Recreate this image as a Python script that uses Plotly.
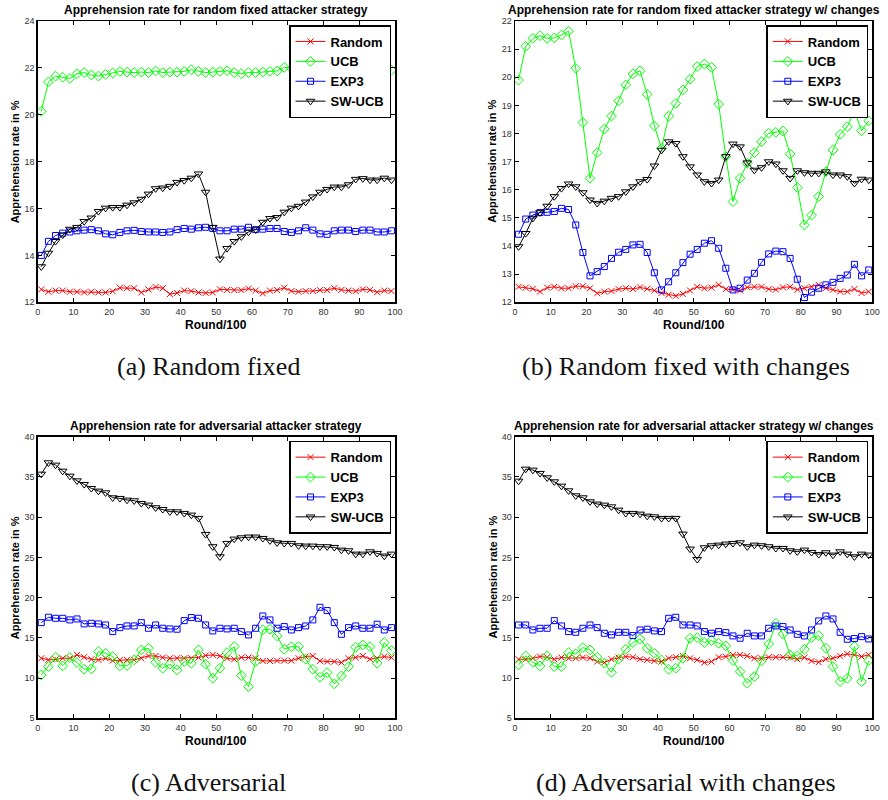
import plotly.graph_objects as go

rounds = list(range(1, 100, 2))
series_names = ["Random", "UCB", "EXP3", "SW-UCB"]

# (a) Random fixed
a_random = [12.55, 12.45, 12.5, 12.5, 12.45, 12.45, 12.42, 12.45, 12.42, 12.42,
            12.47, 12.62, 12.6, 12.6, 12.42, 12.55, 12.65, 12.6, 12.35, 12.4,
            12.5, 12.48, 12.42, 12.4, 12.42, 12.55, 12.53, 12.52, 12.52, 12.58,
            12.5, 12.38, 12.5, 12.52, 12.62, 12.48, 12.45, 12.48, 12.48, 12.52,
            12.52, 12.6, 12.53, 12.5, 12.48, 12.55, 12.53, 12.43, 12.5, 12.48]
a_ucb = [20.15, 21.4, 21.65, 21.6, 21.55, 21.75, 21.8, 21.7, 21.65, 21.72,
         21.78, 21.85, 21.82, 21.8, 21.82, 21.8, 21.87, 21.8, 21.82, 21.82,
         21.85, 21.92, 21.85, 21.8, 21.82, 21.85, 21.88, 21.8, 21.75, 21.8,
         21.8, 21.82, 21.85, 21.87, 22.02, 21.98, 21.97, 21.95, 21.93, 21.95,
         21.92, 21.95, 21.93, 21.95, 21.92, 21.93, 21.95, 21.92, 21.93, 21.9]
a_exp3 = [14.0, 14.6, 14.85, 14.95, 15.0, 15.05, 15.08, 15.1, 15.05, 14.92,
          14.88, 14.98, 15.05, 15.07, 15.02, 15.0, 15.0, 14.98, 15.0, 15.1,
          15.15, 15.12, 15.18, 15.2, 15.15, 15.05, 15.05, 15.12, 15.12, 15.2,
          15.1, 15.12, 15.15, 15.15, 15.02, 14.98, 15.05, 15.18, 15.08, 14.92,
          14.9, 15.05, 15.08, 15.08, 15.02, 15.08, 15.08, 15.0, 15.0, 15.05]
a_swucb = [13.52, 14.1, 14.6, 14.88, 15.12, 15.2, 15.45, 15.6, 15.88, 16.02,
           16.05, 16.05, 16.15, 16.25, 16.4, 16.62, 16.85, 16.88, 16.95, 17.12,
           17.2, 17.3, 17.48, 16.7, 15.2, 13.85, 14.3, 14.6, 14.8, 15.0,
           15.1, 15.42, 15.58, 15.62, 15.85, 16.02, 16.1, 16.28, 16.5, 16.7,
           16.82, 16.92, 16.92, 17.02, 17.25, 17.28, 17.22, 17.22, 17.3, 17.22]

# (b) Random fixed with changes
b_random = [12.55, 12.52, 12.48, 12.38, 12.52, 12.55, 12.5, 12.5, 12.57, 12.57,
            12.5, 12.32, 12.38, 12.4, 12.47, 12.5, 12.47, 12.53, 12.48, 12.42,
            12.33, 12.27, 12.23, 12.3, 12.42, 12.55, 12.5, 12.52, 12.62, 12.47,
            12.45, 12.42, 12.53, 12.55, 12.55, 12.47, 12.45, 12.53, 12.55, 12.45,
            12.5, 12.55, 12.62, 12.5, 12.45, 12.38, 12.38, 12.47, 12.33, 12.38]
b_ucb = [19.9, 21.1, 21.38, 21.48, 21.38, 21.4, 21.5, 21.64, 20.32, 18.39,
         16.41, 17.32, 18.16, 18.62, 19.16, 19.73, 20.12, 20.23, 19.39, 18.27,
         17.47, 18.62, 19.07, 19.55, 19.93, 20.38, 20.47, 20.35, 19.04, 17.18,
         15.58, 16.41, 16.94, 17.32, 17.71, 18.01, 18.04, 18.09, 17.27, 16.08,
         14.75, 15.1, 15.76, 16.64, 17.41, 17.97, 18.24, 18.8, 18.1, 18.45]
b_exp3 = [14.42, 14.96, 15.1, 15.19, 15.2, 15.23, 15.34, 15.3, 14.75, 13.77,
          12.94, 13.09, 13.27, 13.56, 13.78, 13.88, 14.04, 14.06, 13.77, 13.05,
          12.44, 12.73, 13.05, 13.41, 13.71, 13.88, 14.1, 14.19, 13.92, 13.21,
          12.44, 12.5, 12.79, 13.03, 13.42, 13.72, 13.82, 13.8, 13.56, 12.82,
          12.17, 12.36, 12.5, 12.62, 12.71, 12.85, 12.97, 13.35, 12.94, 13.15]
b_swucb = [13.98, 14.45, 14.99, 15.19, 15.42, 15.76, 16.05, 16.21, 16.11, 15.9,
           15.64, 15.52, 15.6, 15.7, 15.76, 15.93, 16.11, 16.29, 16.37, 16.85,
           17.41, 17.71, 17.65, 17.18, 16.82, 16.53, 16.29, 16.23, 16.35, 17.18,
           17.63, 17.53, 16.96, 16.7, 16.79, 17.0, 16.92, 16.68, 16.41, 16.68,
           16.61, 16.59, 16.59, 16.64, 16.53, 16.53, 16.47, 16.23, 16.38, 16.35]

# (c) Adversarial
c_random = [12.46, 12.26, 12.34, 12.46, 12.46, 12.88, 12.59, 12.34, 12.26, 12.46,
            12.17, 12.26, 12.26, 12.26, 12.46, 12.75, 12.75, 12.55, 12.46, 12.46,
            12.46, 12.46, 12.55, 12.8, 12.88, 12.75, 12.46, 12.34, 12.55, 12.55,
            12.46, 12.13, 12.13, 12.17, 12.17, 12.17, 12.46, 12.67, 12.75, 12.13,
            12.05, 12.05, 11.93, 12.46, 12.55, 12.75, 12.34, 12.46, 12.67, 12.55]
c_ucb = [10.39, 11.43, 12.59, 11.51, 12.55, 11.93, 11.1, 11.14, 13.29, 13.08,
         12.67, 11.51, 11.55, 12.26, 13.5, 13.71, 11.97, 11.22, 11.72, 11.01,
         12.05, 11.84, 13.5, 11.72, 9.98, 11.22, 13.17, 13.91, 10.31, 8.94,
         12.05, 15.98, 16.07, 15.24, 13.58, 13.91, 13.91, 12.34, 11.1, 10.1,
         10.68, 9.28, 10.27, 11.43, 13.83, 14.12, 13.91, 11.84, 14.41, 13.42]
c_exp3 = [16.89, 17.56, 17.43, 17.43, 17.23, 17.35, 16.73, 16.81, 16.73, 16.6,
          15.78, 16.27, 16.48, 16.48, 16.89, 16.19, 16.6, 16.19, 16.11, 16.07,
          17.14, 17.52, 17.43, 16.6, 15.86, 16.19, 16.11, 16.19, 15.78, 15.36,
          16.19, 17.72, 17.23, 16.19, 16.4, 15.98, 16.27, 16.48, 17.23, 18.8,
          18.39, 16.89, 15.44, 16.27, 16.48, 16.19, 16.19, 16.69, 15.98, 16.27]
c_swucb = [35.36, 36.77, 36.48, 35.73, 35.11, 34.53, 34.08, 33.58, 33.25, 33.04,
           32.42, 32.34, 32.13, 32.05, 31.72, 31.51, 31.18, 30.97, 30.68, 30.68,
           30.48, 30.27, 29.86, 27.87, 26.34, 25.09, 26.75, 27.29, 27.45, 27.54,
           27.54, 27.37, 27.08, 26.83, 26.75, 26.75, 26.46, 26.42, 26.42, 26.34,
           26.34, 26.25, 25.92, 25.84, 25.42, 25.42, 25.71, 25.51, 25.18, 25.42]

# (d) Adversarial with changes
d_random = [12.34, 12.34, 12.46, 12.67, 12.59, 12.34, 12.55, 12.46, 12.46, 12.55,
            12.46, 12.05, 11.93, 12.34, 12.55, 12.67, 12.59, 12.34, 12.26, 12.13,
            12.05, 12.46, 12.59, 12.75, 12.46, 12.26, 11.93, 12.05, 12.59, 12.67,
            12.88, 12.88, 12.75, 12.46, 12.46, 12.59, 12.59, 12.59, 12.55, 12.34,
            12.55, 12.13, 11.97, 12.34, 12.46, 12.75, 13.0, 12.88, 12.67, 12.88]
d_ucb = [11.64, 12.75, 11.97, 11.51, 12.75, 11.43, 11.43, 13.17, 13.0, 13.79,
         13.5, 12.59, 11.84, 10.72, 12.34, 13.58, 14.41, 14.87, 13.71, 13.08,
         12.26, 11.1, 11.22, 12.46, 14.95, 15.03, 14.41, 14.66, 14.33, 14.0,
         12.17, 10.81, 9.36, 10.19, 12.13, 14.24, 16.81, 15.49, 12.88, 12.75,
         13.58, 15.03, 15.28, 13.71, 11.43, 9.57, 9.98, 13.91, 9.57, 12.17]
d_exp3 = [16.6, 16.6, 15.98, 16.19, 16.19, 17.14, 16.48, 15.78, 15.69, 16.19,
          16.6, 16.27, 15.57, 15.36, 15.69, 15.69, 15.28, 15.98, 16.07, 15.86,
          15.78, 17.43, 17.56, 16.6, 16.6, 16.48, 15.78, 15.57, 15.78, 15.65,
          15.24, 14.95, 15.57, 15.24, 15.24, 16.19, 16.48, 16.4, 15.98, 15.44,
          15.24, 15.98, 17.1, 17.72, 17.35, 15.69, 14.82, 14.91, 15.15, 14.86]
d_swucb = [34.49, 35.98, 35.86, 35.45, 34.91, 34.41, 33.87, 33.29, 32.67, 32.42,
           31.93, 31.64, 31.51, 31.3, 30.89, 30.48, 30.48, 30.39, 30.14, 30.06,
           29.86, 29.86, 29.86, 27.91, 26.05, 24.76, 26.21, 26.46, 26.54, 26.67,
           26.75, 26.83, 26.34, 26.54, 26.46, 26.34, 26.13, 26.13, 25.84, 25.71,
           25.92, 25.63, 25.38, 25.59, 25.3, 25.71, 25.42, 25.09, 25.42, 25.3]

x_ticks = [0, 10, 20, 30, 40, 50, 60, 70, 80, 90, 100]
a_yticks = [12, 14, 16, 18, 20, 22, 24]
b_yticks = [12, 13, 14, 15, 16, 17, 18, 19, 20, 21, 22]
cd_yticks = [5, 10, 15, 20, 25, 30, 35, 40]

titles = ["Apprehension rate for random fixed attacker strategy",
          "Apprehension rate for random fixed attacker strategy w/ changes",
          "Apprehension rate for adversarial attacker strategy",
          "Apprehension rate for adversarial attacker strategy w/ changes"]
captions = ["(a) Random fixed", "(b) Random fixed with changes",
            "(c) Adversarial", "(d) Adversarial with changes"]
x_label = "Round/100"
y_label = "Apprehension rate in %"

W, H = 888, 800
panels = [
    dict(data=[a_random, a_ucb, a_exp3, a_swucb], yr=[12, 24], yt=a_yticks,
         px=(37.7, 395.0), py=(21.0, 302.3)),
    dict(data=[b_random, b_ucb, b_exp3, b_swucb], yr=[12, 22], yt=b_yticks,
         px=(515.0, 872.3), py=(21.0, 302.3)),
    dict(data=[c_random, c_ucb, c_exp3, c_swucb], yr=[5, 40], yt=cd_yticks,
         px=(37.7, 395.0), py=(436.7, 718.3)),
    dict(data=[d_random, d_ucb, d_exp3, d_swucb], yr=[5, 40], yt=cd_yticks,
         px=(515.0, 872.3), py=(436.7, 718.3)),
]

styles = [
    dict(color="#ff0000", symbol="x-thin", size=6),
    dict(color="#00ff00", symbol="diamond-open", size=7.5),
    dict(color="#0000ff", symbol="square-open", size=6),
    dict(color="#000000", symbol="triangle-down-open", size=7.5),
]

sans = "Liberation Sans, Arial, Helvetica, sans-serif"
fig = go.Figure()
annotations = []
layout = dict(width=W, height=H, margin=dict(l=0, r=0, t=0, b=0, autoexpand=False),
              hovermode=False,
              paper_bgcolor="white", plot_bgcolor="white", showlegend=True)

for i, p in enumerate(panels):
    k = "" if i == 0 else str(i + 1)
    leg = "legend" + str(i + 2)
    for name, vals, st in zip(series_names, p["data"], styles):
        fig.add_trace(go.Scatter(
            x=rounds, y=vals, name=name, mode="lines+markers",
            xaxis="x" + k, yaxis="y" + k, legend=leg,
            line=dict(color=st["color"], width=1),
            marker=dict(symbol=st["symbol"], size=st["size"], color=st["color"],
                        line=dict(color=st["color"], width=1)),
        ))

for i, p in enumerate(panels):
    k = "" if i == 0 else str(i + 1)
    xd = [p["px"][0] / W, p["px"][1] / W]
    yd = [1 - p["py"][1] / H, 1 - p["py"][0] / H]
    leg = "legend" + str(i + 2)
    axcommon = dict(showline=True, linecolor="black", linewidth=1.5, mirror="ticks",
                    ticks="inside", ticklen=4, tickcolor="black", tickwidth=1,
                    showgrid=False, zeroline=False, automargin=False,
                    tickfont=dict(family=sans, size=9, color="#333333"))
    layout["xaxis" + k] = dict(domain=xd, range=[0, 100], tickvals=x_ticks,
                               anchor="y" + k, **axcommon)
    layout["yaxis" + k] = dict(domain=yd, range=p["yr"], tickvals=p["yt"],
                               anchor="x" + k, **axcommon)
    layout[leg] = dict(x=(p["px"][1] - 4) / W, y=1 - (p["py"][0] + 4) / H,
                       xanchor="right", yanchor="top", bgcolor="white",
                       bordercolor="black", borderwidth=1.5,
                       font=dict(family=sans, size=13, color="black", weight="bold"),
                       tracegroupgap=0)
    cx = (p["px"][0] + p["px"][1]) / 2 / W
    annotations.append(dict(text="<b>" + titles[i] + "</b>", x=cx,
                            y=1 - (p["py"][0] - 11) / H, xref="paper", yref="paper",
                            showarrow=False, xanchor="center", yanchor="middle",
                            font=dict(family=sans, size=12, color="black")))
    annotations.append(dict(text="<b>" + x_label + "</b>", x=cx,
                            y=1 - (p["py"][1] + 23) / H, xref="paper", yref="paper",
                            showarrow=False, xanchor="center", yanchor="middle",
                            font=dict(family=sans, size=12, color="black")))
    annotations.append(dict(text="<b>" + y_label + "</b>",
                            x=(p["px"][0] - 23) / W,
                            y=1 - (p["py"][0] + p["py"][1]) / 2 / H,
                            xref="paper", yref="paper", textangle=-90,
                            showarrow=False, xanchor="center", yanchor="middle",
                            font=dict(family=sans, size=11, color="black")))
    annotations.append(dict(text=captions[i], x=(cx * W - 8) / W,
                            y=1 - (p["py"][1] + 64) / H, xref="paper", yref="paper",
                            showarrow=False, xanchor="center", yanchor="middle",
                            font=dict(family="Liberation Serif, serif", size=26,
                                      color="#111111")))

layout["annotations"] = annotations
fig.update_layout(**layout)
fig.write_html("out.html", config={"displayModeBar": False, "staticPlot": True},
               post_script="document.body.style.margin='0px';"
                           "document.body.style.overflow='hidden';")
